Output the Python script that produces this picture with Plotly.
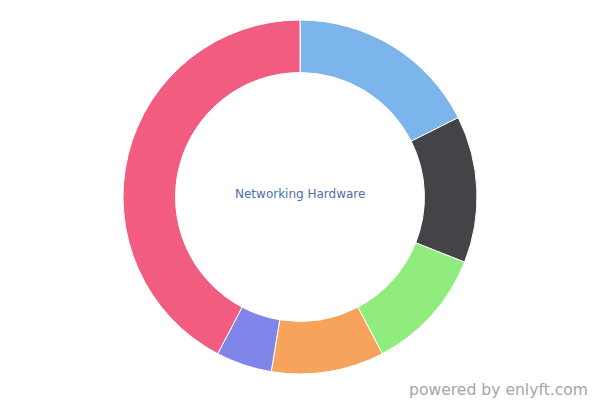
import plotly.graph_objects as go

labels = ["Segment 1", "Segment 2", "Segment 3", "Segment 4", "Segment 5", "Segment 6"]
values = [17.6, 13.4, 11.3, 10.3, 5.1, 42.3]
colors = ["#7cb5ec", "#434348", "#90ed7d", "#f7a35c", "#8085e9", "#f15c80"]
center_title = "Networking Hardware"
credit = "powered by enlyft.com"

fig = go.Figure(go.Pie(
    labels=labels,
    values=values,
    hole=0.703,
    sort=False,
    direction="clockwise",
    rotation=0,
    textinfo="none",
    marker=dict(colors=colors, line=dict(color="#ffffff", width=1)),
    domain=dict(x=[0, 1], y=[0.065, 0.95]),
    showlegend=False,
))

fig.update_layout(
    width=600, height=400,
    margin=dict(l=0, r=0, t=0, b=0),
    paper_bgcolor="#ffffff",
    plot_bgcolor="#ffffff",
    font=dict(family="DejaVu Sans"),
    annotations=[
        dict(text=center_title, x=0.5, y=0.515, xref="paper", yref="paper",
             xanchor="center", yanchor="middle", showarrow=False,
             font=dict(size=12, color="#4a72a8", family="DejaVu Sans")),
        dict(text=credit, x=590/600, y=0.025, xref="paper", yref="paper",
             xanchor="right", yanchor="middle", showarrow=False,
             font=dict(size=15.6, color="#a6a6a6", family="DejaVu Sans")),
    ],
)

fig.write_html("out.html", config={"displayModeBar": False},
               post_script="document.body.style.margin='0px';")
